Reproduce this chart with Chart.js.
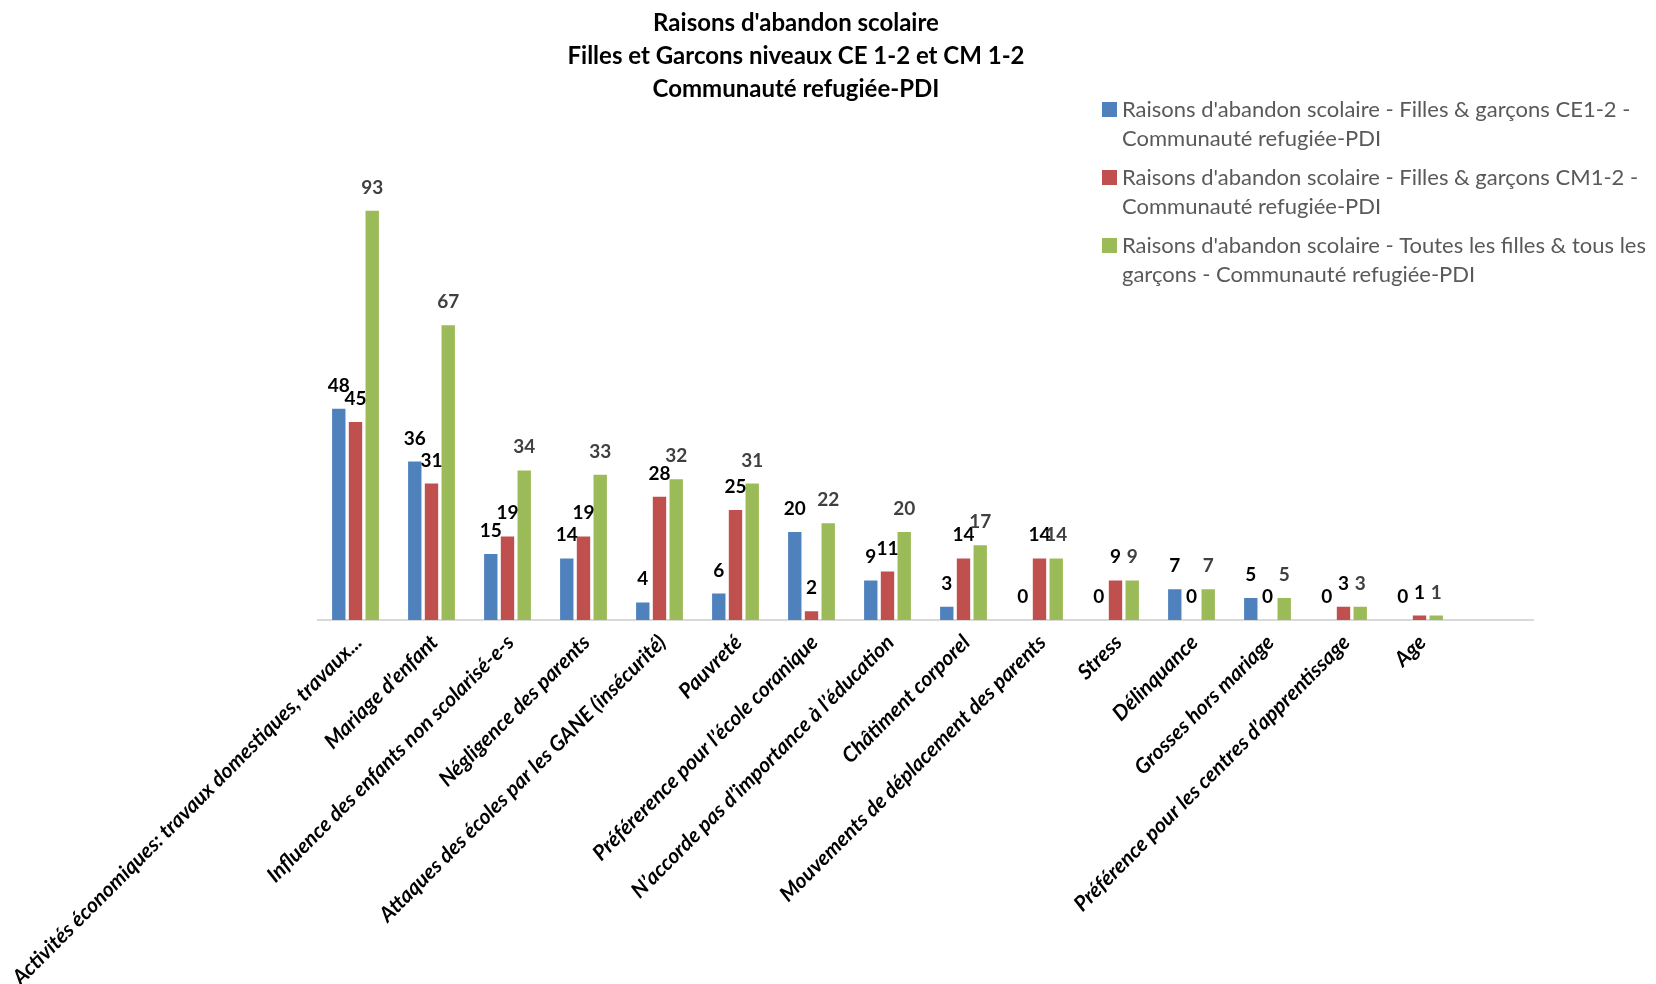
<!DOCTYPE html>
<html>
<head>
<meta charset="utf-8">
<title>Raisons d'abandon scolaire</title>
<script src="https://cdn.jsdelivr.net/npm/chart.js@4.4.0/dist/chart.umd.min.js"></script>
<style>
  html, body { margin: 0; padding: 0; background: #ffffff; }
  #wrap { width: 1656px; height: 984px; position: relative; }
</style>
</head>
<body>
<div id="wrap"><canvas id="chart" width="1656" height="984"></canvas></div>
<script>
// Chart title, one entry per line
const titleLines = [
  "Raisons d'abandon scolaire",
  "Filles et Garcons niveaux CE 1-2 et CM 1-2",
  "Communauté refugiée-PDI"
];

// Reasons for dropping out (the last, empty row keeps a blank slot at the end of the axis)
const categories = [
  "Activités économiques: travaux domestiques, travaux...",
  "Mariage d’enfant",
  "Influence des enfants non scolarisé-e-s",
  "Négligence des parents",
  "Attaques des écoles par les GANE (insécurité)",
  "Pauvreté",
  "Préférerence pour l’école coranique",
  "N’accorde pas d’importance à l’éducation",
  "Châtiment corporel",
  "Mouvements de déplacement des parents",
  "Stress",
  "Délinquance",
  "Grosses hors mariage",
  "Préférence pour les centres d’apprentissage",
  "Age",
  ""
];

// Counts per level
const valuesCE12  = [48, 36, 15, 14,  4,  6, 20,  9,  3,  0, 0, 7, 5, 0, 0, null];
const valuesCM12  = [45, 31, 19, 19, 28, 25,  2, 11, 14, 14, 9, 0, 0, 3, 1, null];
const valuesTotal = [93, 67, 34, 33, 32, 31, 22, 20, 17, 14, 9, 7, 5, 3, 1, null];

// Legend names (wrapped as shown)
const seriesNames = [
  ["Raisons d'abandon scolaire - Filles & garçons CE1-2 -", "Communauté refugiée-PDI"],
  ["Raisons d'abandon scolaire - Filles & garçons CM1-2 -", "Communauté refugiée-PDI"],
  ["Raisons d'abandon scolaire - Toutes les filles & tous les", "garçons - Communauté refugiée-PDI"]
];

const seriesColors = ["#4f81bd", "#c0504d", "#9bbb59"];
const labelColors  = ["#000000", "#000000", "#404040"];
const FONT = "Lato, 'Open Sans', 'Noto Sans', sans-serif";

// Title, drawn as three centred bold lines
const titlePlugin = {
  id: 'multiTitle',
  afterDraw(chart) {
    const ctx = chart.ctx;
    ctx.save();
    ctx.fillStyle = '#000000';
    ctx.font = "bold 24px " + FONT;
    ctx.textAlign = 'center';
    ctx.textBaseline = 'alphabetic';
    titleLines.forEach((line, i) => ctx.fillText(line, 796, 31 + i * 33));
    ctx.restore();
  }
};

// Legend at the top right, each name wrapped on two lines
const legendPlugin = {
  id: 'wrappedLegend',
  afterDraw(chart) {
    const ctx = chart.ctx;
    ctx.save();
    ctx.font = "22px " + FONT;
    ctx.textAlign = 'left';
    ctx.textBaseline = 'alphabetic';
    chart.data.datasets.forEach((ds, i) => {
      const base = 117 + i * 68;
      ctx.fillStyle = ds.backgroundColor;
      ctx.fillRect(1102, base - 15, 15, 15);
      ctx.fillStyle = '#595959';
      seriesNames[i].forEach((line, k) => ctx.fillText(line, 1122, base + k * 28.5));
    });
    ctx.restore();
  }
};

// Value labels above every bar
const valueLabelPlugin = {
  id: 'valueLabels',
  afterDatasetsDraw(chart) {
    const ctx = chart.ctx;
    ctx.save();
    ctx.font = "bold 19px " + FONT;
    ctx.textAlign = 'center';
    ctx.textBaseline = 'alphabetic';
    chart.data.datasets.forEach((ds, i) => {
      const meta = chart.getDatasetMeta(i);
      ctx.fillStyle = labelColors[i];
      meta.data.forEach((bar, j) => {
        const v = ds.data[j];
        if (v === null || v === undefined) return;
        ctx.fillText(String(v), bar.x, bar.y - 17);
      });
    });
    ctx.restore();
  }
};

const datasets = [valuesCE12, valuesCM12, valuesTotal].map((vals, i) => ({
  label: seriesNames[i].join(' '),
  data: vals,
  backgroundColor: seriesColors[i],
  borderWidth: 0,
  categoryPercentage: 0.66,
  barPercentage: 0.8
}));

new Chart(document.getElementById('chart'), {
  type: 'bar',
  data: { labels: categories, datasets },
  options: {
    responsive: false,
    devicePixelRatio: 1,
    animation: false,
    layout: { padding: { left: 317.5, right: 122.5, top: 180, bottom: 0 } },
    plugins: {
      legend: { display: false },
      title: { display: false },
      tooltip: { enabled: false }
    },
    scales: {
      x: {
        grid: { display: false, drawTicks: false },
        border: { display: true, color: '#d9d9d9', width: 2 },
        ticks: {
          color: '#000000',
          font: { family: FONT, size: 21, style: 'italic', weight: 'bold' },
          maxRotation: 45,
          minRotation: 45,
          autoSkip: false,
          padding: 10,
          labelOffset: 3
        },
        afterFit(scale) {
          scale.paddingLeft = 0;
          scale.paddingRight = 0;
          scale.height = 364;
        }
      },
      y: {
        display: false,
        min: 0,
        max: 100
      }
    }
  },
  plugins: [valueLabelPlugin, titlePlugin, legendPlugin]
});
</script>
</body>
</html>
